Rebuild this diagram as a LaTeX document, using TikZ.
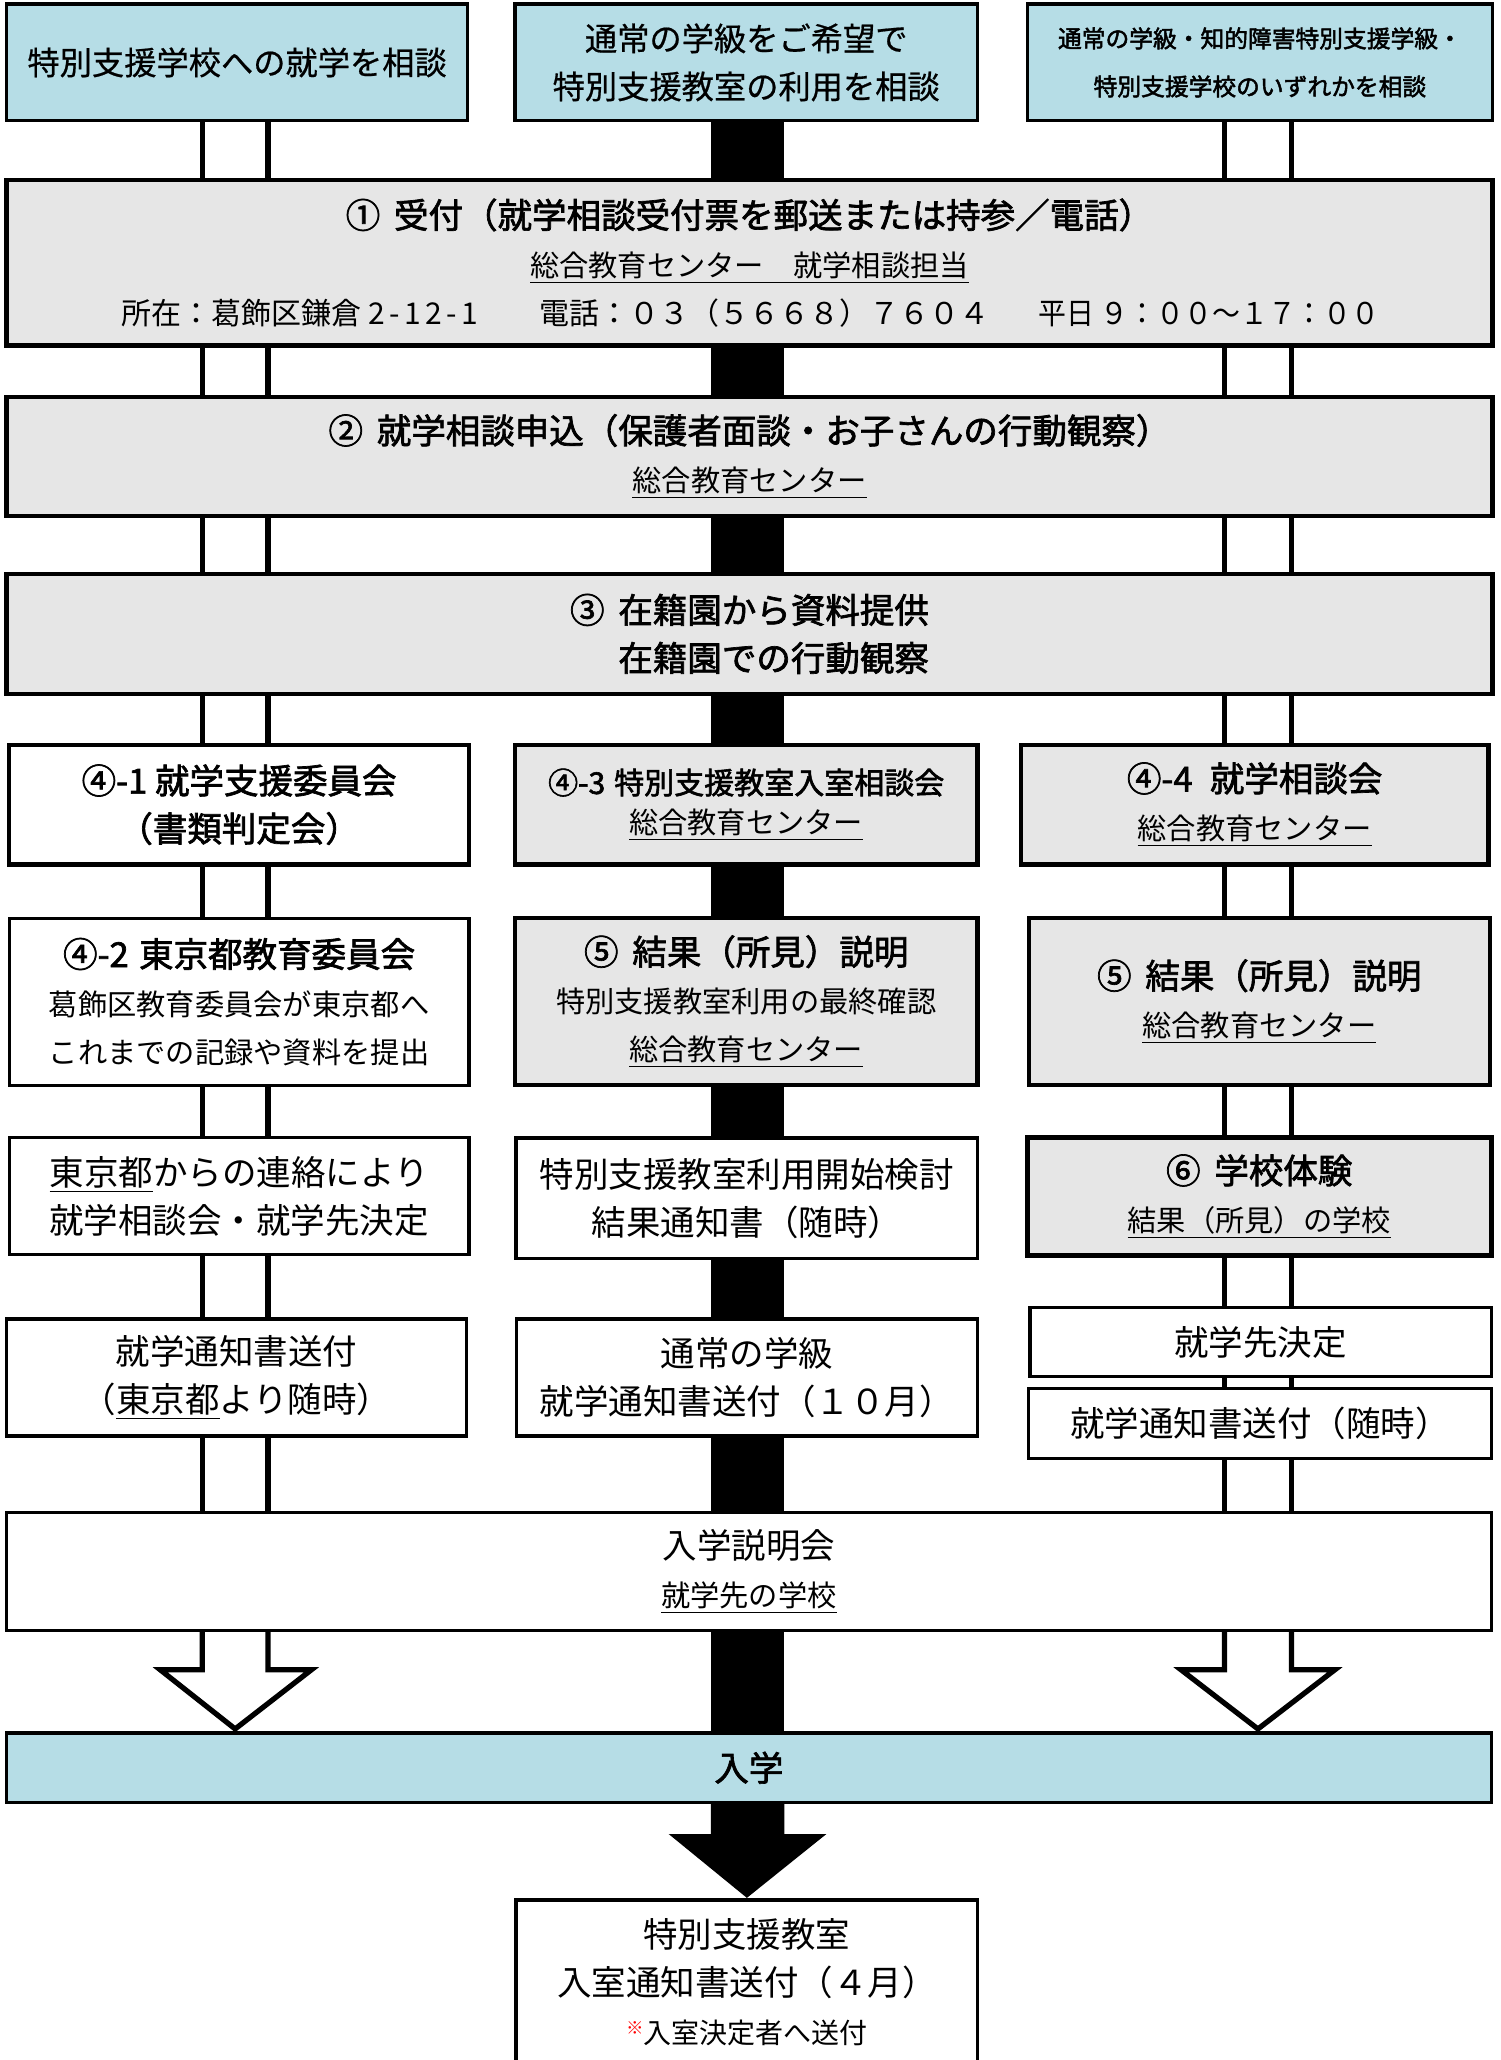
\documentclass[tikz,border=0pt]{standalone}
\usepackage{fontspec}
\usepackage{graphicx}
\newfontfamily\jp{Noto Sans CJK JP}
\newfontfamily\jpb{Noto Sans CJK JP}[FakeBold=2]
\newfontfamily\jpm{Noto Sans CJK JP}[FakeBold=0.6]
\usetikzlibrary{fit}
\newlength\rr \setlength\rr{0.5254pt}
\definecolor{blu}{HTML}{B6DDE6}
\definecolor{gry}{HTML}{E6E6E6}
\pgfdeclarelayer{bg}\pgfsetlayers{bg,main}
\newcommand\myL{\fontsize{13.8}{19.2}\selectfont}
\newcommand\myS{\fontsize{11.7}{19.2}\selectfont}
\newcommand\myH{\jpb\fontsize{13.8}{19.2}\selectfont}
\newcommand\myM{\jpb\fontsize{12}{19.2}\selectfont}
\newcommand\myC{\jpb\fontsize{9.5}{18.4}\selectfont}
\newcommand\myT{\jpm\fontsize{12.9}{19.4}\selectfont}
\begin{document}
\begin{tikzpicture}[x=0.5254pt,y=-0.5254pt,
  box/.style={draw=black,line width=1.3pt,inner sep=0pt},
  thickbox/.style={box,line width=1.7pt},
  bluebox/.style={box,fill=blu},
  graybox/.style={thickbox,fill=gry},
  whitebox/.style={box,fill=white},
  txt/.style={inner sep=0pt,align=center,font=\jp\myS,text=black},
  dbl/.style={line width=2.1pt,draw=black}]
\useasboundingbox (0,0) rectangle (1142,1568);
% named x positions
\coordinate (L1) at (154,0);
\coordinate (L2) at (204,0);
\coordinate (R1) at (932,0);
\coordinate (R2) at (983,0);
\coordinate (BL) at (541,0);
\coordinate (BR) at (597,0);
% ---------- boxes ----------
\node[bluebox,fit={(5,3) (356,92)}] (A) {};
\node[bluebox,fit={(392,3) (744,92)}] (B) {};
\node[bluebox,fit={(782,3) (1136,92)}] (C) {};
\node[graybox,fit={(5,137) (1136,263)}] (S1) {};
\node[graybox,fit={(5,302) (1136,393)}] (S2) {};
\node[graybox,fit={(5,437) (1136,528)}] (S3) {};
\node[thickbox,fill=white,fit={(7,567) (357,658)}] (S41) {};
\node[graybox,fit={(392,567) (744,658)}] (S43) {};
\node[graybox,fit={(777,567) (1133,658)}] (S44) {};
\node[whitebox,fit={(7,699) (357,826)}] (S42) {};
\node[graybox,fit={(392,699) (744,826)}] (S5m) {};
\node[graybox,fit={(783,699) (1134,826)}] (S5r) {};
\node[whitebox,fit={(7,866) (357,955)}] (R6l) {};
\node[whitebox,line width=1.5pt,fit={(393,866) (744,958)}] (R6m) {};
\node[graybox,line width=2pt,fit={(782,866) (1135,956)}] (S6) {};
\node[whitebox,fit={(5,1004) (355,1093)}] (R7l) {};
\node[whitebox,fit={(393,1004) (744,1093)}] (R7m) {};
\node[whitebox,fit={(784,995) (1135,1048)}] (R7a) {};
\node[whitebox,fit={(783,1057) (1135,1110)}] (R7b) {};
\node[whitebox,fit={(5,1151) (1135,1241)}] (ES) {};
\node[bluebox,fit={(5,1319) (1135,1372)}] (NY) {};
\node[whitebox,line width=1.5pt,fit={(393,1446) (744,1572)}] (FN) {};
% ---------- texts ----------
\node[txt] (At) at (A.center) {{\myT 特別支援学校への就学を相談}};
\node[txt] (Bt) at (B.center) {{\myT 通常の学級をご希望で}\\{\myT 特別支援教室の利用を相談}};
\node[txt] (Ct) at (C.center) {{\myC 通常の学級・知的障害特別支援学級・}\\{\myC 特別支援学校のいずれかを相談}};
\node[txt] (S1t) at (S1.center) {{\myH ①\hspace{.4em}受付（就学相談受付票を郵送または持参／電話）}\\
  \underline{総合教育センター　就学相談担当}\\
  {\fontsize{12}{19.2}\selectfont\makebox[956\rr][l]{\rlap{所在：葛飾区鎌倉 {\addfontfeature{LetterSpace=15}2-12-1}}\hspace{318\rr}\rlap{電話：０３（５６６８）７６０４}\hspace{380\rr}\rlap{\scalebox{0.93}[1]{平日 ９：００～１７：００}}}}};
\node[txt] (S2t) at (S2.center) {{\myH ②\hspace{.4em}就学相談申込（保護者面談・お子さんの行動観察）}\\\underline{総合教育センター}};
\node[txt] (S3t) at (S3.center) {{\myH ③\hspace{.4em}在籍園から資料提供}\\{\myH \hphantom{③\hspace{.4em}}在籍園での行動観察}};
\node[txt] (S41t) at (S41.center) {{\myH ④-1 就学支援委員会}\\{\myH （書類判定会）}};
\node[txt] (S43t) at (S43.center) {{\myM ④-3\hspace{.3em}特別支援教室入室相談会}\\[-6.5\rr]\underline{総合教育センター}};
\node[txt] (S44t) at (S44.center) {{\myH ④-4\hspace{.5em}就学相談会}\\\underline{総合教育センター}};
\node[txt] (S42t) at (S42.center) {{\myH ④-2\hspace{.3em}東京都教育委員会}\\葛飾区教育委員会が東京都へ\\これまでの記録や資料を提出};
\node[txt] (S5mt) at (S5m.center) {{\myH ⑤\hspace{.4em}結果（所見）説明}\\特別支援教室利用の最終確認\\\underline{総合教育センター}};
\node[txt] (S5rt) at (S5r.center) {{\myH ⑤\hspace{.4em}結果（所見）説明}\\\underline{総合教育センター}};
\node[txt] (R6lt) at (R6l.center) {{\myL\underline{東京都}からの連絡により}\\{\myL 就学相談会・就学先決定}};
\node[txt] (R6mt) at (R6m.center) {{\myL 特別支援教室利用開始検討}\\{\myL 結果通知書（随時）}};
\node[txt] (S6t) at (S6.center) {{\myH ⑥\hspace{.4em}学校体験}\\\underline{結果（所見）の学校}};
\node[txt] (R7lt) at (R7l.center) {{\myL 就学通知書送付}\\{\myL （\underline{東京都}より随時）}};
\node[txt] (R7mt) at (R7m.center) {{\myL 通常の学級}\\{\myL 就学通知書送付（１０月）}};
\node[txt] (R7at) at (R7a.center) {{\myL 就学先決定}};
\node[txt] (R7bt) at (R7b.center) {{\myL 就学通知書送付（随時）}};
\node[txt] (ESt) at (ES.center) {{\myL 入学説明会}\\\underline{就学先の学校}};
\node[txt] (NYt) at (NY.center) {{\myH 入学}};
\node[txt] (FNt) at (FN.center) {{\myL 特別支援教室}\\{\myL 入室通知書送付（４月）}\\{\fontsize{11.2}{19.2}\selectfont\textcolor{red}{\raisebox{.35em}{\fontsize{7}{7}\selectfont ※}}入室決定者へ送付}};
% arrow points
\coordinate (HLa) at (154,1271);
\coordinate (HLb) at (122,1271);
\coordinate (HLt) at (179,1316);
\coordinate (HLc) at (237,1271);
\coordinate (HLd) at (204,1271);
\coordinate (HRa) at (932,1271);
\coordinate (HRb) at (899,1271);
\coordinate (HRt) at (957.5,1316);
\coordinate (HRc) at (1016,1271);
\coordinate (HRd) at (983,1271);
\coordinate (BAa) at (541,1396);
\coordinate (BAb) at (509,1396);
\coordinate (BAc) at (629,1396);
\coordinate (BAd) at (597,1396);
\begin{pgfonlayer}{bg}
\fill[black] (B.south -| BL) rectangle (NY.north -| BR);
\fill[black] (NY.south -| BL) -- (BAa) -- (BAb) -- (FN.north) -- (BAc) -- (BAd) -- (NY.south -| BR) -- cycle;
\draw[dbl] (A.south -| L1) -- (ES.north -| L1);
\draw[dbl] (A.south -| L2) -- (ES.north -| L2);
\draw[dbl] (C.south -| R1) -- (ES.north -| R1);
\draw[dbl] (C.south -| R2) -- (ES.north -| R2);
\draw[dbl,fill=white,line join=miter] (ES.south -| L1) -- (HLa) -- (HLb) -- (HLt) -- (HLc) -- (HLd) -- (ES.south -| L2);
\draw[dbl,fill=white,line join=miter] (ES.south -| R1) -- (HRa) -- (HRb) -- (HRt) -- (HRc) -- (HRd) -- (ES.south -| R2);
\end{pgfonlayer}
\end{tikzpicture}
\end{document}
